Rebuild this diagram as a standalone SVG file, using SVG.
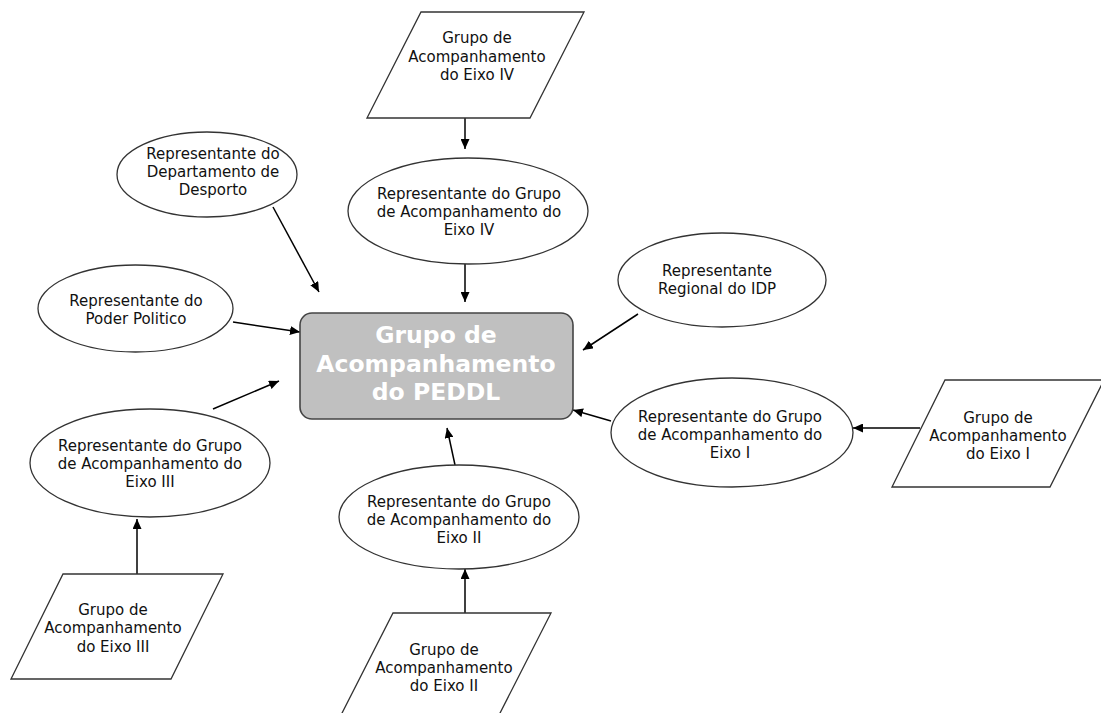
<svg xmlns="http://www.w3.org/2000/svg" width="1101" height="713" viewBox="0 0 1101 713">
  <defs>
    <marker id="arrow" markerUnits="userSpaceOnUse" markerWidth="11" markerHeight="9" refX="10" refY="4.5" orient="auto">
      <path d="M0,0 L10,4.5 L0,9 z" fill="#000"/>
    </marker>
    <style>
      .shape { fill: #fff; stroke: #333; stroke-width: 1.3; }
      .hub { fill: #c0c0c0; stroke: #444; stroke-width: 1.6; }
      .lbl { font-family: "DejaVu Sans", Verdana, sans-serif; font-size: 15px; fill: #111; text-anchor: middle; }
      .hubtxt { font-family: "DejaVu Sans", Verdana, sans-serif; font-size: 23.5px; font-weight: bold; fill: #fff; text-anchor: middle; }
      .link { stroke: #000; stroke-width: 1.5; fill: none; marker-end: url(#arrow); }
    </style>
  </defs>
  <rect width="1101" height="713" fill="#fff"/>

  <!-- connectors -->
  <g id="connectors">
    <line class="link" x1="465" y1="118" x2="465" y2="149"/>
    <line class="link" x1="465" y1="264" x2="465" y2="302"/>
    <line class="link" x1="273" y1="207" x2="319" y2="292"/>
    <line class="link" x1="233" y1="322" x2="300" y2="332"/>
    <line class="link" x1="638" y1="314" x2="583" y2="350"/>
    <line class="link" x1="611" y1="421" x2="573" y2="410"/>
    <line class="link" x1="920" y1="428" x2="853" y2="428"/>
    <line class="link" x1="455" y1="465" x2="447" y2="428"/>
    <line class="link" x1="465" y1="613" x2="465" y2="569"/>
    <line class="link" x1="213" y1="409" x2="279" y2="381"/>
    <line class="link" x1="137" y1="574" x2="137" y2="519"/>
  </g>

  <!-- central group -->
  <g id="hub">
    <rect class="hub" x="300" y="313" width="273" height="106" rx="12" ry="12"/>
    <text class="hubtxt" x="436" y="343">Grupo de</text>
    <text class="hubtxt" x="436" y="372">Acompanhamento</text>
    <text class="hubtxt" x="436" y="400">do PEDDL</text>
  </g>

  <!-- axis groups (parallelograms) -->
  <g id="eixo4">
    <polygon class="shape" points="421,12 584,12 530,118 367,118"/>
    <text class="lbl" x="477" y="43">Grupo de</text>
    <text class="lbl" x="477" y="62">Acompanhamento</text>
    <text class="lbl" x="477" y="80">do Eixo IV</text>
  </g>
  <g id="eixo1">
    <polygon class="shape" points="945,380 1104,380 1050,487 892,487"/>
    <text class="lbl" x="998" y="423">Grupo de</text>
    <text class="lbl" x="998" y="441">Acompanhamento</text>
    <text class="lbl" x="998" y="459">do Eixo I</text>
  </g>
  <g id="eixo2">
    <polygon class="shape" points="393,613 551,613 497,719 339,719"/>
    <text class="lbl" x="444" y="655">Grupo de</text>
    <text class="lbl" x="444" y="673">Acompanhamento</text>
    <text class="lbl" x="444" y="691">do Eixo II</text>
  </g>
  <g id="eixo3">
    <polygon class="shape" points="63,574 223,574 171,679 11,679"/>
    <text class="lbl" x="113" y="615">Grupo de</text>
    <text class="lbl" x="113" y="633">Acompanhamento</text>
    <text class="lbl" x="113" y="652">do Eixo III</text>
  </g>

  <!-- representatives (ellipses) -->
  <g id="rep-desporto">
    <ellipse class="shape" cx="207" cy="174.5" rx="90" ry="42.5"/>
    <text class="lbl" x="213" y="159">Representante do</text>
    <text class="lbl" x="213" y="177">Departamento de</text>
    <text class="lbl" x="213" y="195">Desporto</text>
  </g>
  <g id="rep-eixo4">
    <ellipse class="shape" cx="468" cy="211" rx="120" ry="53"/>
    <text class="lbl" x="469" y="199">Representante do Grupo</text>
    <text class="lbl" x="469" y="217">de Acompanhamento do</text>
    <text class="lbl" x="469" y="235">Eixo IV</text>
  </g>
  <g id="rep-idp">
    <ellipse class="shape" cx="722" cy="280" rx="104" ry="47"/>
    <text class="lbl" x="717" y="276">Representante</text>
    <text class="lbl" x="717" y="294">Regional do IDP</text>
  </g>
  <g id="rep-poder">
    <ellipse class="shape" cx="135.5" cy="308.5" rx="97.5" ry="43.5"/>
    <text class="lbl" x="136" y="306">Representante do</text>
    <text class="lbl" x="136" y="324">Poder Politico</text>
  </g>
  <g id="rep-eixo1">
    <ellipse class="shape" cx="732" cy="432.5" rx="121" ry="54.5"/>
    <text class="lbl" x="730" y="422">Representante do Grupo</text>
    <text class="lbl" x="730" y="440">de Acompanhamento do</text>
    <text class="lbl" x="730" y="458">Eixo I</text>
  </g>
  <g id="rep-eixo2">
    <ellipse class="shape" cx="459" cy="517" rx="120" ry="52"/>
    <text class="lbl" x="459" y="507">Representante do Grupo</text>
    <text class="lbl" x="459" y="525">de Acompanhamento do</text>
    <text class="lbl" x="459" y="543">Eixo II</text>
  </g>
  <g id="rep-eixo3">
    <ellipse class="shape" cx="150" cy="463" rx="120" ry="54"/>
    <text class="lbl" x="150" y="451">Representante do Grupo</text>
    <text class="lbl" x="150" y="469">de Acompanhamento do</text>
    <text class="lbl" x="150" y="487">Eixo III</text>
  </g>
</svg>
